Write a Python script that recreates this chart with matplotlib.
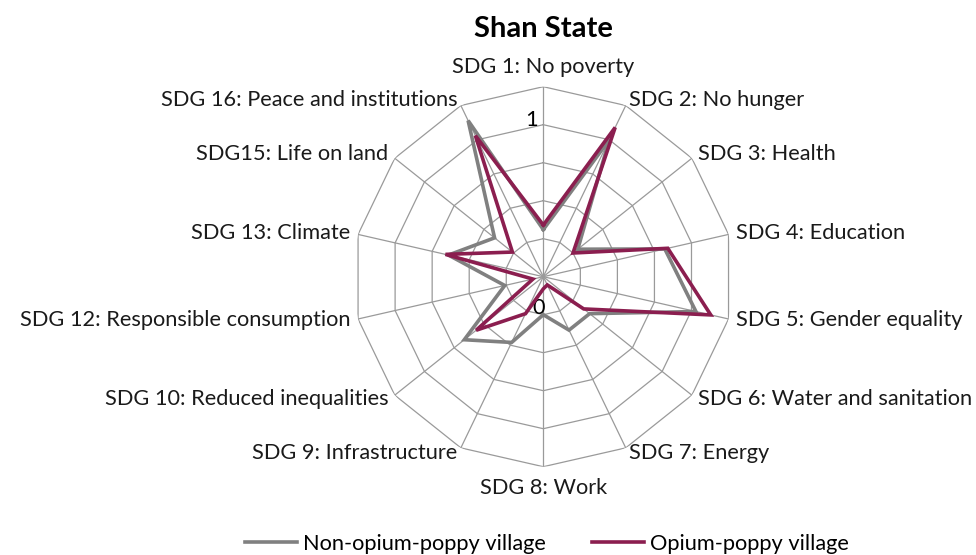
import numpy as np
import matplotlib
matplotlib.use("Agg")
import matplotlib.pyplot as plt
from matplotlib.lines import Line2D

plt.rcParams['font.family'] = ['Lato', 'DejaVu Sans']

categories = ["SDG 1: No poverty", "SDG 2: No hunger", "SDG 3: Health", "SDG 4: Education",
              "SDG 5: Gender equality", "SDG 6: Water and sanitation", "SDG 7: Energy",
              "SDG 8: Work", "SDG 9: Infrastructure", "SDG 10: Reduced inequalities",
              "SDG 12: Responsible consumption", "SDG 13: Climate", "SDG15: Life on land",
              "SDG 16: Peace and institutions"]
non_opium = [0.31, 1.00, 0.29, 0.82, 1.03, 0.39, 0.39, 0.25, 0.48, 0.665, 0.26, 0.64, 0.41, 1.14]
opium = [0.34, 1.09, 0.25, 0.84, 1.13, 0.34, 0.06, 0.08, 0.27, 0.565, 0.07, 0.66, 0.26, 1.03]
rings = [0.25, 0.5, 0.75, 1.0, 1.25]

W, H = 976, 555
cx, cy, R = 543.3, 276.7, 190.0
fig = plt.figure(figsize=(W / 100, H / 100), dpi=100)
ax = fig.add_axes([(cx - R) / W, (H - cy - R) / H, 2 * R / W, 2 * R / H], polar=True)
ax.set_theta_zero_location('N')
ax.set_theta_direction(-1)
ax.set_ylim(0, 1.25)
ax.axis('off')

n = len(categories)
theta = np.arange(n) * 2 * np.pi / n
tc = np.append(theta, theta[0])

# polygon grid like excel radar
grid_col = '#9a9a9a'
for r in rings:
    ax.plot(tc, [r] * (n + 1), color=grid_col, lw=0.9, zorder=1)
for t in theta:
    ax.plot([t, t], [0, 1.25], color=grid_col, lw=0.9, zorder=1)

gray = '#808080'
red = '#8b1e4f'
ax.plot(tc, non_opium + non_opium[:1], color=gray, lw=2.6, zorder=3, solid_joinstyle='miter')
ax.plot(tc, opium + opium[:1], color=red, lw=2.6, zorder=4, solid_joinstyle='miter')

fs = 15.7
for t, lab in zip(theta, categories):
    s, c = np.sin(t), np.cos(t)
    if abs(s) < 1e-6:
        ha = 'center'
        off = (0, 20 if c > 0 else -21)
    else:
        ha = 'left' if s > 0 else 'right'
        off = (8 * s, 6 * c)
    ax.annotate(lab, xy=(t, 1.25), xytext=off, textcoords='offset pixels',
                ha=ha, va='center', fontsize=fs, color='#1a1a1a')

ax.annotate("1", xy=(0, 1.0), xytext=(-5, 5), textcoords='offset pixels',
            ha='right', va='center', fontsize=fs)
ax.annotate("0", xy=(0, 0), xytext=(-5, -31), textcoords='offset pixels',
            ha='center', va='center', fontsize=fs)

fig.text(cx / W, 1 - 29 / H, "Shan State", ha='center', va='center',
         fontsize=21, fontweight='bold')

handles = [Line2D([], [], color=gray, lw=2.6), Line2D([], [], color=red, lw=2.6)]
fig.legend(handles, ["Non-opium-poppy village", "Opium-poppy village"],
           loc='center', bbox_to_anchor=(547 / W, 1 - 544 / H), ncol=2,
           frameon=False, fontsize=fs, handlelength=2.4, handletextpad=0.27,
           columnspacing=2.1, borderpad=0.1)

fig.savefig("out.png", dpi=100)
